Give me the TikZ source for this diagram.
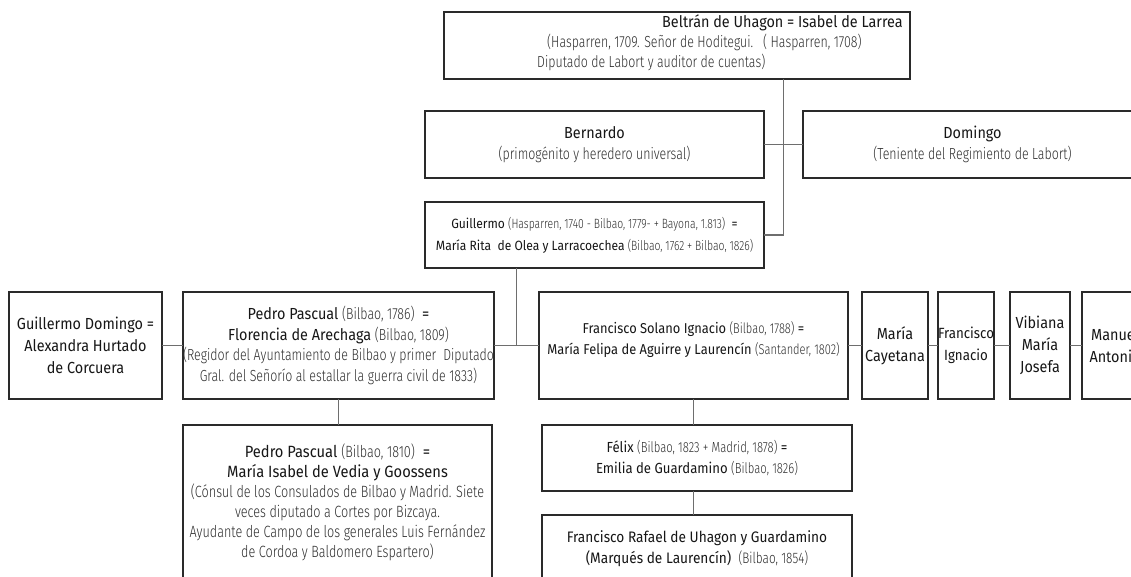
\documentclass[tikz,border=0pt]{standalone}
\usepackage{fontspec}
\usetikzlibrary{calc}
\setmainfont{Fira Sans}
% names: condensed regular; notes in parentheses: light, more condensed
\newfontfamily\namefont[FakeStretch=0.9]{Fira Sans}
\newfontfamily\notefont[FakeStretch=0.775,UprightFont={* Light}]{Fira Sans}
\definecolor{boxline}{HTML}{2A2A2A}
\definecolor{linkline}{HTML}{6E6E6E}
\definecolor{nametext}{HTML}{161616}
\definecolor{notetext}{HTML}{2E2E2E}
\newcommand\note[1]{{\notefont\color{notetext}#1}}
\newcommand\nsize[2]{\namefont\fontsize{#1}{#2}\selectfont}
\tikzset{
  person/.style={draw=boxline, line width=1.1pt, fill=white, inner sep=0pt,
    outer sep=0pt, align=center, text=nametext, anchor=north west,
    font=\nsize{16}{20.5}},
  link/.style={draw=linkline, line width=1.1pt},
  boxtext/.style={inner sep=0pt, anchor=base west, text=nametext,
    font=\nsize{16}{20.5}},
}
\begin{document}
\begin{tikzpicture}[x=1pt, y=-1pt]
\useasboundingbox (0,0) rectangle (1131,577);
\fill[white] (0,0) rectangle (1131,577);
\clip (0,0) rectangle (1131,577);

% first generation
\node[person, minimum width=466pt, minimum height=67pt] (beltran) at (444,12) {};
\node[boxtext] (beltranname) at (662,28) {Beltrán de Uhagon = Isabel de Larrea};
\node[boxtext] (beltrannoteA) at (547,48) {\note{(Hasparren, 1709. Señor de Hoditegui.}};
\node[boxtext] (beltrannoteB) at (763,48) {\note{( Hasparren, 1708)}};
\node[boxtext] (beltrannoteC) at (537,68) {\note{Diputado de Labort y auditor de cuentas)}};

% second generation
\node[person, minimum width=339pt, minimum height=67pt] (bernardo) at (425,111)
  {Bernardo\\\note{(primogénito y heredero universal)}};
\node[person, minimum width=339pt, minimum height=67pt] (domingo) at (803,111)
  {Domingo\\\note{(Teniente del Regimiento de Labort)}};
\node[person, minimum width=339pt, minimum height=66pt, font=\nsize{13.4}{22}] (guillermo) at (425,202)
  {Guillermo \note{(Hasparren, 1740 - Bilbao, 1779- + Bayona, 1.813)}~~=\\
   María Rita~~de Olea y Larracoechea \note{(Bilbao, 1762 + Bilbao, 1826)}};

% third generation
\node[person, minimum width=153pt, minimum height=107pt, font=\nsize{16}{22}] (gdomingo) at (9,292)
  {Guillermo Domingo =\\Alexandra Hurtado\\de Corcuera};
\node[person, minimum width=311pt, minimum height=107pt] (pedro) at (183,292)
  {Pedro Pascual \note{(Bilbao, 1786)}~~=\\
   Florencia de Arechaga \note{(Bilbao, 1809)}\\
   \note{(Regidor del Ayuntamiento de Bilbao y primer~~Diputado}\\
   \note{Gral. del Señorío al estallar la guerra civil de 1833)}};
\node[person, minimum width=309pt, minimum height=107pt, font=\nsize{14.3}{21}] (francisco) at (539,292)
  {Francisco Solano Ignacio \note{(Bilbao, 1788)} =\\
   María Felipa de Aguirre y Laurencín \note{(Santander, 1802)}\\[-6pt]\mbox{}};
\node[person, minimum width=66pt, minimum height=107pt, font=\nsize{16}{22}] (cayetana) at (862,292)
  {María\\Cayetana};
\node[person, minimum width=52pt, minimum height=107pt, font=\nsize{14.8}{22}] (fignacio) at (938,292)
  {Francisco\\Ignacio};
\node[person, minimum width=60pt, minimum height=107pt, font=\nsize{16}{22}] (vibiana) at (1010,292)
  {Vibiana\\María\\Josefa};
\node[person, minimum width=66pt, minimum height=107pt, font=\nsize{16}{22}] (manuel) at (1082,292)
  {Manuel\\Antonio};

% fourth and fifth generations
\node[person, minimum width=309pt, minimum height=154pt, font=\nsize{16.3}{20}] (pedrob) at (183,425)
  {Pedro Pascual \note{(Bilbao, 1810)}~~=\\
   María Isabel de Vedia y Goossens\\
   \note{(Cónsul de los Consulados de Bilbao y Madrid. Siete}\\
   \note{veces diputado a Cortes por Bizcaya.}\\
   \note{Ayudante de Campo de los generales Luis Fernández}\\
   \note{de Cordoa y Baldomero Espartero)}};
\node[person, minimum width=310pt, minimum height=66pt, font=\nsize{14.6}{20.5}] (felix) at (542,425)
  {Félix \note{(Bilbao, 1823 + Madrid, 1878)} =\\
   Emilia de Guardamino \note{(Bilbao, 1826)}};
\node[person, minimum width=310pt, minimum height=68pt, font=\nsize{15.2}{21}] (rafael) at (542,515)
  {Francisco Rafael de Uhagon y Guardamino\\
   (Marqués de Laurencín)~~\note{(Bilbao, 1854)}};

% connectors
\draw[link] (beltran.south -| 783.5,0) -- (783.5,0 |- guillermo.east) -- (guillermo.east);
\draw[link] (bernardo.east) -- (domingo.west);
\coordinate (drop) at ($(pedro.east)!0.5!(francisco.west)$);
\draw[link] (drop) -- (drop |- guillermo.south);
\draw[link] (gdomingo.east) -- (pedro.west);
\draw[link] (pedro.east) -- (francisco.west);
\draw[link] (francisco.east) -- (cayetana.west);
\draw[link] (cayetana.east) -- (fignacio.west);
\draw[link] (fignacio.east) -- (vibiana.west);
\draw[link] (vibiana.east) -- (manuel.west);
\draw[link] (pedro.south) -- (pedro.south |- pedrob.north);
\draw[link] (francisco.south) -- (francisco.south |- felix.north);
\draw[link] (francisco.south |- felix.south) -- (francisco.south |- rafael.north);
\end{tikzpicture}
\end{document}
